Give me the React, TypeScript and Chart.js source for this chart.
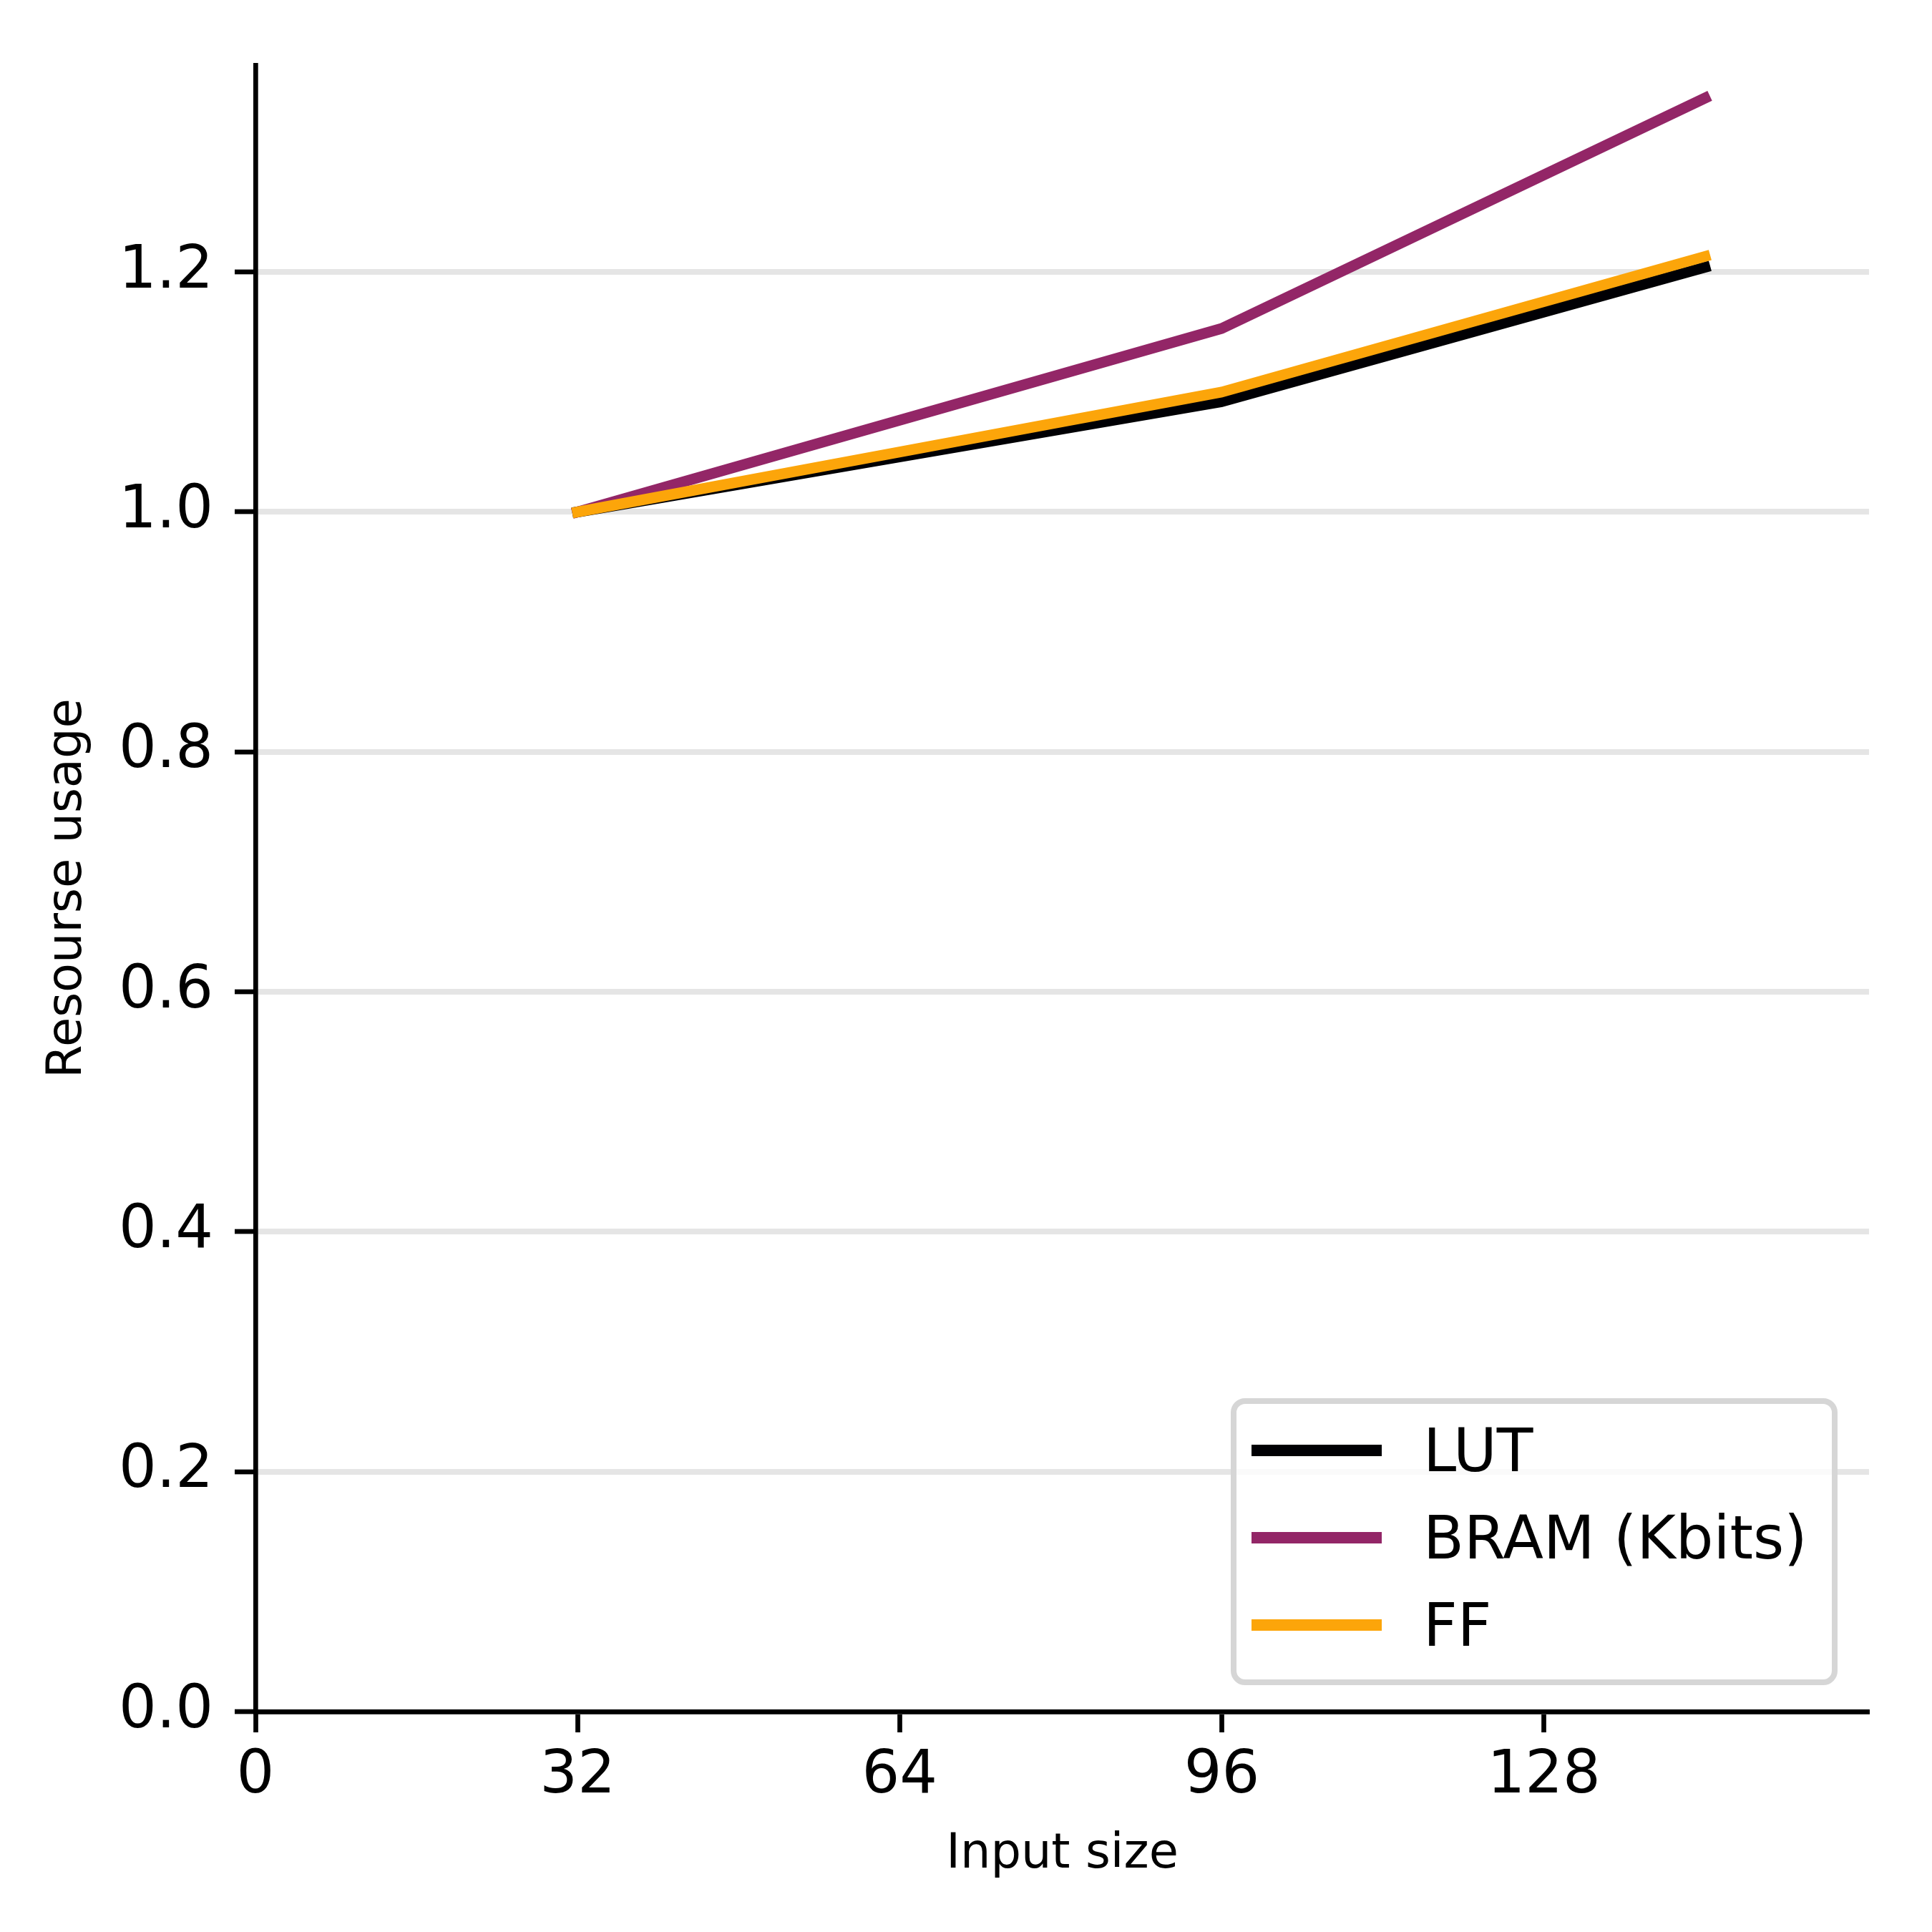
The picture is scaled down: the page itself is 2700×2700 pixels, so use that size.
import { useEffect, useRef } from "react";
import { Chart, registerables } from "chart.js";

Chart.register(...registerables);

const inputSizes = [32, 96, 144];
const lutUsage = [1.0, 1.092, 1.204];
const bramUsage = [1.0, 1.153, 1.345];
const ffUsage = [1.0, 1.1, 1.213];
const seriesLabels = ["LUT", "BRAM (Kbits)", "FF"];
const seriesColors = ["#000004", "#932667", "#fca50a"];
const xTickValues = [0, 32, 64, 96, 128];
const yTickValues = [0, 0.2, 0.4, 0.6, 0.8, 1.0, 1.2];

const FONT = "'DejaVu Sans', sans-serif";

// matplotlib-style legend box in the lower right of the plot area
const legendBox = {
  id: "legendBox",
  afterDatasetsDraw(chart: Chart) {
    const { ctx, chartArea } = chart;
    const w = 840;
    const x0 = chartArea.right - 48 - w;
    const y0 = chartArea.bottom - 434;
    const h = 393;
    ctx.save();
    ctx.beginPath();
    ctx.roundRect(x0, y0, w, h, 16);
    ctx.fillStyle = "rgba(255,255,255,0.8)";
    ctx.fill();
    ctx.lineWidth = 8;
    ctx.strokeStyle = "#d6d6d6";
    ctx.stroke();
    ctx.font = `83px ${FONT}`;
    ctx.textAlign = "left";
    ctx.textBaseline = "alphabetic";
    chart.data.datasets.forEach((ds, i) => {
      const y = y0 + 69 + i * 122;
      ctx.beginPath();
      ctx.moveTo(x0 + 25, y);
      ctx.lineTo(x0 + 207, y);
      ctx.lineWidth = 16;
      ctx.lineCap = "butt";
      ctx.strokeStyle = ds.borderColor as string;
      ctx.stroke();
      ctx.fillStyle = "#000";
      ctx.fillText(ds.label ?? "", x0 + 265, y + 29);
    });
    ctx.restore();
  },
};

export default function App() {
  const canvasRef = useRef<HTMLCanvasElement>(null);

  useEffect(() => {
    document.body.style.margin = "0";
    if (!canvasRef.current) return;
    const ctx = canvasRef.current.getContext("2d");
    if (!ctx) return;

    const series = [lutUsage, bramUsage, ffUsage];

    const chart = new Chart(ctx, {
      type: "line",
      data: {
        datasets: series.map((vals, i) => ({
          label: seriesLabels[i],
          data: inputSizes.map((x, j) => ({ x, y: vals[j] })),
          borderColor: seriesColors[i],
          backgroundColor: seriesColors[i],
          borderWidth: 15,
          borderCapStyle: "square" as const,
          borderJoinStyle: "round" as const,
          pointRadius: 0,
          fill: false,
          tension: 0,
          // later series drawn on top, as in the original plot
          order: series.length - i,
        })),
      },
      options: {
        responsive: false,
        animation: false,
        devicePixelRatio: 1,
        layout: { padding: { top: 91, right: 88, left: 0, bottom: 0 } },
        plugins: {
          legend: { display: false },
          tooltip: { enabled: false },
        },
        scales: {
          x: {
            type: "linear",
            min: 0,
            max: 160.3,
            afterFit: (s: any) => {
              s.height = 308;
            },
            afterBuildTicks: (s: any) => {
              s.ticks = xTickValues.map((value) => ({ value }));
            },
            ticks: {
              color: "#000",
              font: { family: FONT, size: 83 },
              padding: 13,
              maxRotation: 0,
              autoSkip: false,
              callback: (v: any) => String(v),
            },
            grid: {
              drawOnChartArea: false,
              drawTicks: true,
              tickLength: 29,
              tickWidth: 6.7,
              tickColor: "#000",
            },
            border: { color: "#000", width: 6.7 },
            title: {
              display: true,
              text: "Input size",
              color: "#000",
              font: { family: FONT, size: 67 },
              padding: { top: 0, bottom: 67 },
            },
          },
          y: {
            type: "linear",
            min: 0,
            max: 1.3725,
            afterFit: (s: any) => {
              s.width = 357;
            },
            afterBuildTicks: (s: any) => {
              s.ticks = yTickValues.map((value) => ({ value }));
            },
            ticks: {
              color: "#000",
              font: { family: FONT, size: 83 },
              padding: 30,
              autoSkip: false,
              callback: (v: any) => Number(v).toFixed(1),
            },
            grid: {
              color: "#e5e5e5",
              lineWidth: 8,
              drawTicks: true,
              tickLength: 29,
              tickWidth: 6.7,
              tickColor: "#000",
            },
            border: { color: "#000", width: 6.7 },
            title: {
              display: true,
              text: "Resourse usage",
              color: "#000",
              font: { family: FONT, size: 67 },
              padding: { top: 55, bottom: 0 },
            },
          },
        },
      },
      plugins: [legendBox],
    });

    return () => {
      chart.destroy();
    };
  }, []);

  return (
    <canvas
      ref={canvasRef}
      width={2700}
      height={2700}
      style={{ width: 2700, height: 2700, display: "block" }}
    />
  );
}
